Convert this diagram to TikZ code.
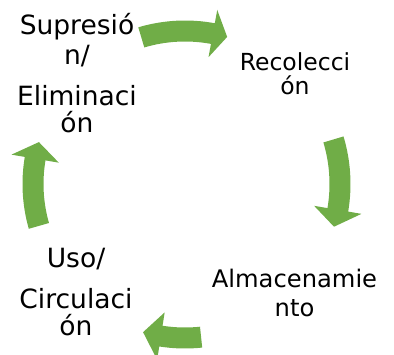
\documentclass[tikz,border=0pt]{standalone}
\usepackage{fontspec}
\setmainfont{DejaVu Sans}
\definecolor{arrowgreen}{HTML}{70AD47}
\newcommand{\cyclearrow}[4]{% #1 tail angle, #2 head base angle, #3 tip angle, #4 mid radius
  \fill[arrowgreen] (#1:{#4+10.5}) arc[start angle=#1, end angle=#2, radius={#4+10.5}]
    -- (#2:{#4+24}) -- (#3:#4) -- (#2:{#4-24}) -- (#2:{#4-10.5})
    arc[start angle=#2, end angle=#1, radius={#4-10.5}] -- cycle;}
\begin{document}
\begin{tikzpicture}[x=1pt,y=1pt,
  lbl/.style={anchor=base, inner sep=0pt, text=black},
  big/.style={lbl, font=\fontsize{26.5}{29}\selectfont},
  mid/.style={lbl, font=\fontsize{23.5}{26}\selectfont},
  alm/.style={lbl, font=\fontsize{24.2}{27}\selectfont}]
\useasboundingbox (0,0) rectangle (394,354);
\begin{scope}[shift={(185,170)}]
  \cyclearrow{106.6}{79.5}{74}{153}
  \cyclearrow{16.7}{-9.6}{-16}{155}
  \cyclearrow{-84}{-99}{-105.8}{154}
  \cyclearrow{196}{170.4}{164}{152}
\end{scope}
% Supresión / Eliminación
\node[big] (s1) at (77,319) {Supresió};
\node[big] (s2) at (77,289) {n/};
\node[big] (s3) at (77,248.5) {Eliminaci};
\node[big] (s4) at (77,221.5) {ón};
% Recolección
\node[mid] (r1) at (295,283.3) {Recolecci};
\node[mid] (r2) at (295,259) {ón};
% Almacenamiento
\node[alm] (a1) at (294.5,66.7) {Almacenamie};
\node[alm] (a2) at (294.5,37.3) {nto};
% Uso / Circulación
\node[big] (u1) at (76,86.7) {Uso/};
\node[big] (u2) at (76,45.7) {Circulaci};
\node[big] (u3) at (76,19) {ón};
\end{tikzpicture}
\end{document}
